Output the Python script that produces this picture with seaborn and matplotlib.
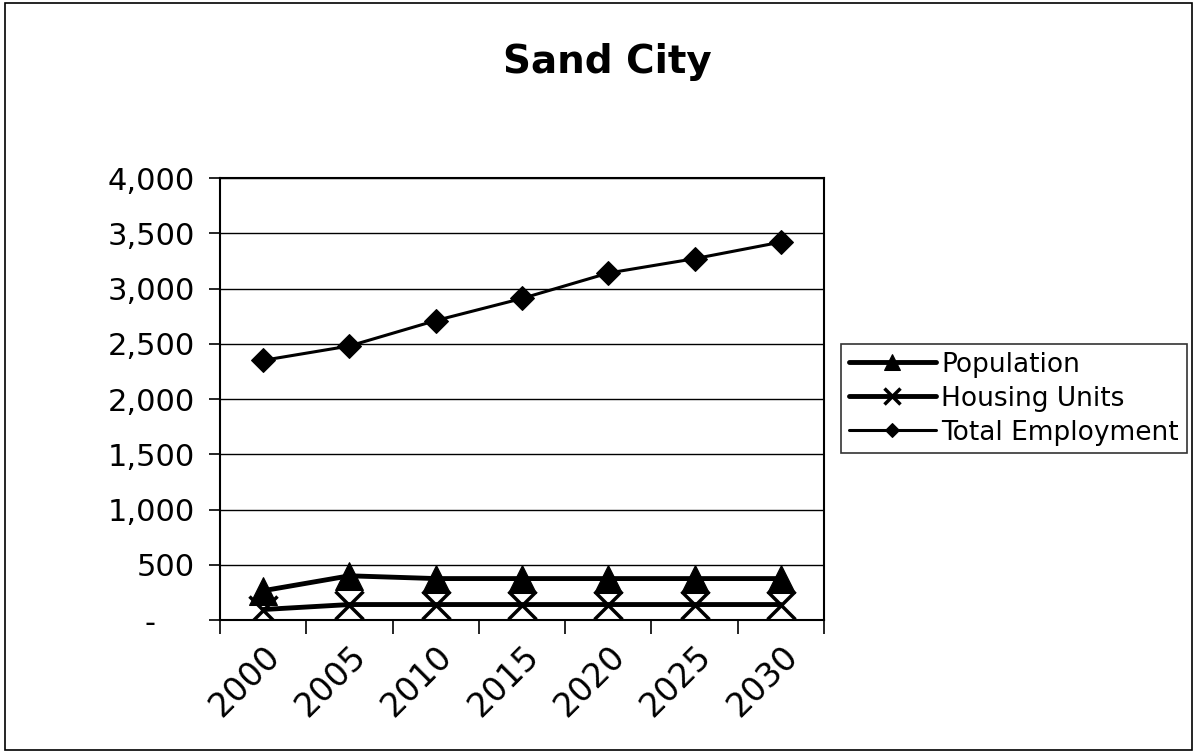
import pandas as pd
import seaborn as sns
import matplotlib.pyplot as plt
from matplotlib.patches import Rectangle
from matplotlib.ticker import FuncFormatter, FixedLocator

# data
years = ["2000", "2005", "2010", "2015", "2020", "2025", "2030"]
population = [265, 400, 375, 375, 375, 375, 375]
housing_units = [95, 140, 140, 140, 140, 140, 140]
total_employment = [2350, 2480, 2710, 2910, 3140, 3270, 3420]

sns.set_style("white")
plt.rcParams["font.family"] = ["DejaVu Sans"]
plt.rcParams["text.color"] = "black"
plt.rcParams["xtick.color"] = "black"
plt.rcParams["ytick.color"] = "black"

fig = plt.figure(figsize=(11.97, 7.55), dpi=100)
ax = fig.add_axes([0.1838, 0.1788, 0.5046, 0.5854])

df_pop = pd.DataFrame({"year": years, "value": population})
df_hu = pd.DataFrame({"year": years, "value": housing_units})
df_emp = pd.DataFrame({"year": years, "value": total_employment})

sns.lineplot(data=df_pop, x="year", y="value", ax=ax, color="black",
             linewidth=3.5, marker="^", markersize=20, markeredgecolor="black",
             label="Population", zorder=4)
sns.lineplot(data=df_hu, x="year", y="value", ax=ax, color="black",
             linewidth=3.5, marker="x", markersize=20, markeredgewidth=2.5,
             markeredgecolor="black", label="Housing Units", zorder=3)
sns.lineplot(data=df_emp, x="year", y="value", ax=ax, color="black",
             linewidth=2.2, marker="D", markersize=12, markeredgecolor="black",
             label="Total Employment", zorder=3)

ax.set_xlim(-0.5, len(years) - 0.5)
ax.set_ylim(0, 4000)
ax.set_yticks(range(0, 4001, 500))
ax.yaxis.set_major_formatter(FuncFormatter(lambda v, p: "-    " if v == 0 else f"{int(v):,}"))
ax.grid(axis="y", color="black", linewidth=1)
ax.set_axisbelow(True)

# category axis: tick marks between categories, labels at the centres
ax.xaxis.set_major_locator(FixedLocator([i - 0.5 for i in range(len(years) + 1)]))
ax.xaxis.set_major_formatter(FuncFormatter(lambda v, p: ""))
ax.xaxis.set_minor_locator(FixedLocator(list(range(len(years)))))
ax.set_xticks(range(len(years)), years, minor=True)
ax.tick_params(axis="x", which="major", direction="out", length=10, width=1.2, color="black", bottom=True)
ax.tick_params(axis="x", which="minor", length=0, labelsize=24, pad=14)
for lab in ax.get_xticklabels(minor=True):
    lab.set_rotation(45)
    lab.set_ha("right")
    lab.set_rotation_mode("anchor")
ax.tick_params(axis="y", direction="out", length=8, width=1.2, color="black", left=True, labelsize=22, pad=10)

for s in ax.spines.values():
    s.set_color("black")
    s.set_linewidth(1.5)

ax.set_xlabel("")
ax.set_ylabel("")

handles, labels = ax.get_legend_handles_labels()
ax.legend_.remove()
leg = fig.legend(handles, labels, loc="center left", bbox_to_anchor=(0.7026, 0.472),
                 fontsize=19, frameon=True, fancybox=False, edgecolor="black",
                 handlelength=3.3, handletextpad=0.2, borderpad=0.3, labelspacing=0.3,
                 borderaxespad=0)
leg.get_frame().set_linewidth(1.2)
for h in leg.legend_handles:
    h.set_markersize(h.get_markersize() * 0.6)

fig.text(0.507, 0.918, "Sand City", ha="center", va="center", fontsize=28, fontweight="bold")

fig.patches.append(Rectangle((0.004, 0.006), 0.992, 0.99, transform=fig.transFigure,
                             fill=False, edgecolor="black", linewidth=1.2))

fig.savefig("out.png", dpi=100)
